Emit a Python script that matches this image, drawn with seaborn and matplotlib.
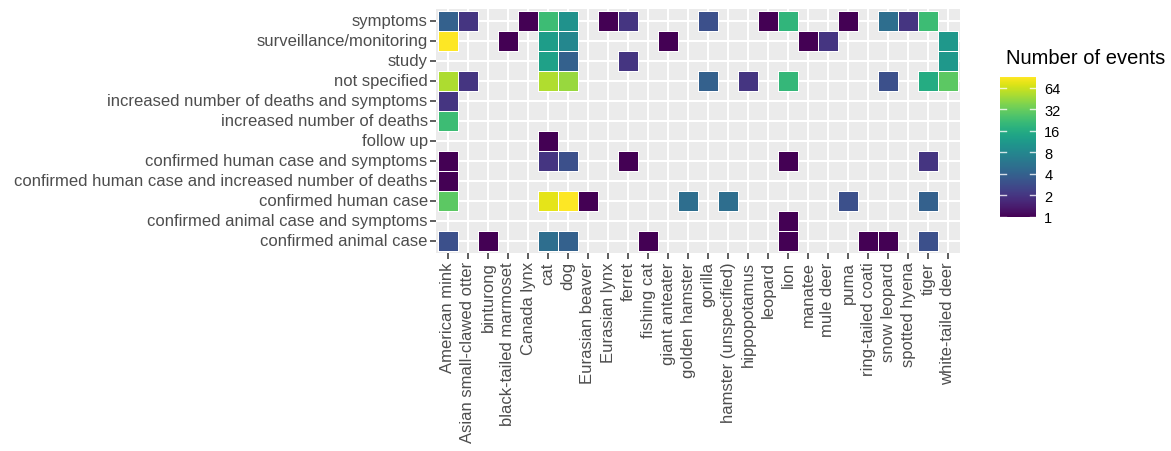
import numpy as np
import pandas as pd
import matplotlib
matplotlib.use("Agg")
import matplotlib.pyplot as plt
from matplotlib.colors import LogNorm
from matplotlib.ticker import NullLocator
import seaborn as sns

# Host species (columns) and event types (rows, top to bottom)
species = [
    "American mink", "Asian small-clawed otter", "binturong", "black-tailed marmoset",
    "Canada lynx", "cat", "dog", "Eurasian beaver", "Eurasian lynx", "ferret",
    "fishing cat", "giant anteater", "golden hamster", "gorilla",
    "hamster (unspecified)", "hippopotamus", "leopard", "lion", "manatee",
    "mule deer", "puma", "ring-tailed coati", "snow leopard", "spotted hyena",
    "tiger", "white-tailed deer",
]
event_types = [
    "symptoms", "surveillance/monitoring", "study", "not specified",
    "increased number of deaths and symptoms", "increased number of deaths",
    "follow up", "confirmed human case and symptoms",
    "confirmed human case and increased number of deaths",
    "confirmed human case", "confirmed animal case and symptoms",
    "confirmed animal case",
]

# Event counts per (event type, species)
symptoms = {"American mink": 4, "Asian small-clawed otter": 2, "Canada lynx": 1, "cat": 22,
            "dog": 10, "Eurasian lynx": 1, "ferret": 2, "gorilla": 3, "leopard": 1,
            "lion": 19, "puma": 1, "snow leopard": 5, "spotted hyena": 2, "tiger": 22}
surveillance = {"American mink": 90, "black-tailed marmoset": 1, "cat": 12, "dog": 8,
                "giant anteater": 1, "manatee": 1, "mule deer": 2, "white-tailed deer": 11}
study = {"cat": 13, "dog": 4, "ferret": 2, "white-tailed deer": 11}
not_specified = {"American mink": 52, "Asian small-clawed otter": 2, "cat": 53, "dog": 45,
                 "gorilla": 4, "hippopotamus": 2, "lion": 20, "snow leopard": 3,
                 "tiger": 16, "white-tailed deer": 29}
deaths_and_symptoms = {"American mink": 2}
deaths = {"American mink": 22}
follow_up = {"cat": 1}
human_case_symptoms = {"American mink": 1, "cat": 2, "dog": 3, "ferret": 1, "lion": 1, "tiger": 2}
human_case_deaths = {"American mink": 1}
human_case = {"American mink": 29, "cat": 75, "dog": 90, "Eurasian beaver": 1,
              "golden hamster": 5, "hamster (unspecified)": 5, "puma": 3, "tiger": 4}
animal_case_symptoms = {"lion": 1}
animal_case = {"American mink": 3, "binturong": 1, "cat": 5, "dog": 4, "fishing cat": 1,
               "lion": 1, "ring-tailed coati": 1, "snow leopard": 1, "tiger": 3}

counts_by_event = [symptoms, surveillance, study, not_specified, deaths_and_symptoms, deaths,
                   follow_up, human_case_symptoms, human_case_deaths, human_case,
                   animal_case_symptoms, animal_case]

grid = pd.DataFrame(np.nan, index=event_types, columns=species)
for ev, counts in zip(event_types, counts_by_event):
    for sp, n in counts.items():
        grid.loc[ev, sp] = n

FONT = "Liberation Sans"
plt.rcParams["font.family"] = FONT

fig = plt.figure(figsize=(11.71, 4.52), dpi=100)
ax = fig.add_axes([436 / 1171, 1 - 254 / 452, 524 / 1171, 244 / 452])
cax = fig.add_axes([1000 / 1171, 1 - 218 / 452, 36 / 1171, 140 / 452])

ax.set_facecolor("#EBEBEB")
ticks = [1, 2, 4, 8, 16, 32, 64]
norm = LogNorm(vmin=1, vmax=90)
sns.heatmap(grid, ax=ax, cmap="viridis", norm=norm, linewidths=0.5, linecolor="white",
            cbar_ax=cax, cbar_kws={"ticks": ticks}, zorder=2)

# white outlines only around filled tiles
mesh = ax.collections[0]
empty = np.isnan(grid.values).ravel()
edge = np.tile([1.0, 1.0, 1.0, 1.0], (empty.size, 1))
edge[empty, 3] = 0.0
mesh.set_edgecolor(edge)

# panel styling: grey background with white major grid lines at each category
ax.set_xlim(-0.1, len(species) + 0.1)
ax.set_ylim(len(event_types) + 0.1, -0.1)
ax.set_xticks(np.arange(len(species)) + 0.5)
ax.set_yticks(np.arange(len(event_types)) + 0.5)
ax.set_xticklabels(species, rotation=90, ha="center", va="top")
ax.set_yticklabels(event_types, rotation=0)
ax.grid(True, color="white", lw=1.5, zorder=0)
ax.set_axisbelow(True)
for s in ax.spines.values():
    s.set_visible(False)
ax.tick_params(axis="both", colors="#333333", length=4, width=1.1, labelsize=12,
               labelcolor="#4D4D4D", pad=2)
ax.set_xlabel("")
ax.set_ylabel("")

# colour bar legend
cb = mesh.colorbar
cb.outline.set_visible(False)
cax.yaxis.set_minor_locator(NullLocator())
cb.set_ticks(ticks)
cb.set_ticklabels([str(t) for t in ticks])
cax.tick_params(which="both", length=0, labelsize=10.5, labelcolor="black", pad=6)
ytr = cax.get_yaxis_transform()
for t in ticks:
    cax.plot([0, 0.18], [t, t], color="white", lw=1, alpha=0.8, transform=ytr)
    cax.plot([0.82, 1], [t, t], color="white", lw=1, alpha=0.8, transform=ytr)
fig.text(1006 / 1171, 1 - 58 / 452, "Number of events", fontsize=14.5, va="center", ha="left")

fig.savefig("out.png", dpi=100, facecolor="white")
